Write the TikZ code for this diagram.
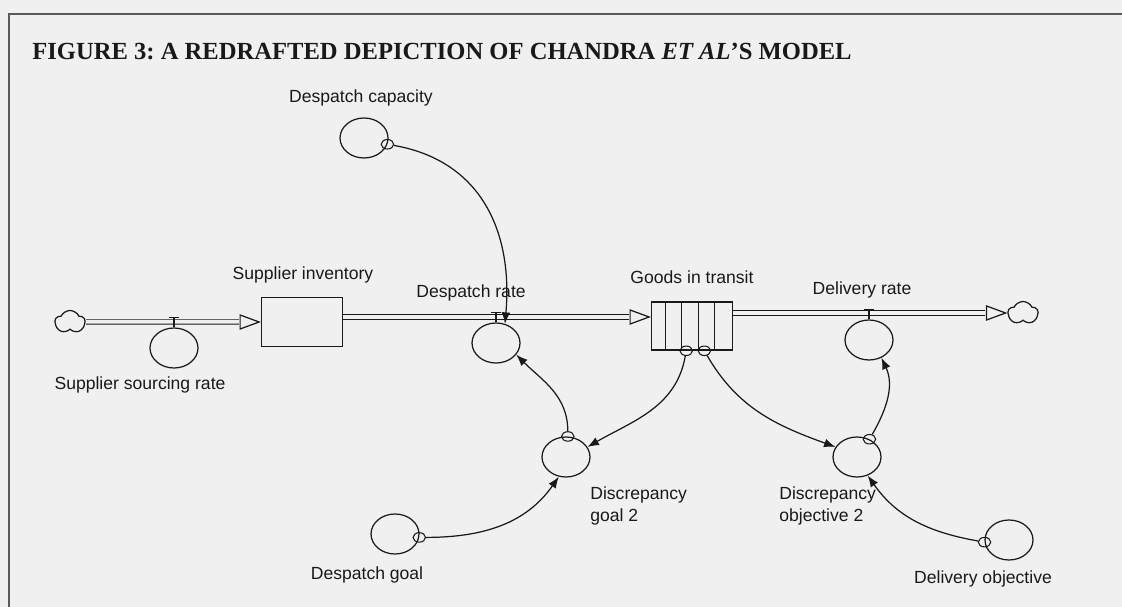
\documentclass[tikz,border=0pt]{standalone}
\usepackage{fontspec}
\setmainfont{Liberation Serif}
\setsansfont{Liberation Sans}
\usepackage{tikz}
\usetikzlibrary{calc,positioning,shapes.symbols,shapes.geometric,arrows.meta}
\definecolor{paper}{gray}{0.94}
\definecolor{ink}{gray}{0.1}
\definecolor{framegrey}{gray}{0.35}
\frenchspacing

\begin{document}
\begin{tikzpicture}[x=0.02cm,y=-0.02cm,>={Latex[length=6.5pt,width=5pt]}]

\tikzset{aux/.style={draw=ink,shape=ellipse,inner sep=0pt,minimum width=0.96cm,minimum height=0.8cm,line width=0.7pt},
tail/.style={draw=ink,shape=ellipse,inner sep=0pt,minimum width=0.25cm,minimum height=0.19cm,line width=0.6pt},
stock/.style={draw=ink,line width=0.9pt,minimum width=1.62cm,minimum height=0.98cm,inner sep=0pt},
sink/.style={draw=ink,shape=cloud,cloud puffs=5,cloud puff arc=130,aspect=1.3,minimum width=0.6cm,minimum height=0.46cm,inner sep=0pt,line width=0.7pt},
pipetip/.style={draw=ink,fill=paper,shape=isosceles triangle,isosceles triangle stretches,anchor=apex,inner sep=0pt,minimum width=0.28cm,minimum height=0.38cm,line width=0.7pt},
pipe/.style={draw=ink,double=paper,double distance=0.07cm,line width=0.55pt,shorten >=0.3pt},
link/.style={draw=ink,->,line width=0.7pt},
lbl/.style={font=\sffamily\fontsize{10}{13}\selectfont,text=ink,inner sep=0pt}}

\useasboundingbox (0,0) rectangle (1122,607);
\fill[paper] (0,0) rectangle (1122,607);

% Frame and title
\draw[framegrey,line width=1.1pt] (9,607) -- (9,14) -- (1122,14);
\node[anchor=west,inner sep=0pt,text=ink,font=\bfseries\fontsize{14}{16}\selectfont] (title) at (32,52) {FIGURE 3: A REDRAFTED DEPICTION OF CHANDRA \textit{ET AL}'S MODEL};

% Sources and sinks
\node[sink] (cloudL) at (70,322) {};
\node[sink] (cloudR) at (1023,313) {};

% Stocks
\node[stock] (inv) at (302,322) {};
\node[stock,minimum height=0.96cm] (transit) at (692,326) {};
\foreach \i in {1,2,3,4} \draw[ink,line width=0.7pt] ($(transit.north west)!\i/5-0.025!(transit.north east)$) -- ($(transit.south west)!\i/5-0.025!(transit.south east)$);

% Pipe heads
\node[pipetip] (tipA) at (inv.west) {};
\node[pipetip] (tipB) at ($(transit.west)+(0,-9)$) {};
\node[pipetip] (tipC) at (cloudR.west) {};

% Pipes
\draw[pipe] (cloudL.east) -- (tipA.west);
\draw[pipe] (inv.east |- tipB) -- (tipB.west);
\draw[pipe] (transit.east |- tipC) -- (tipC.west);

% Rates (valves)
\node[aux] (srcRate) at (174,348) {};
\node[aux] (despRate) at (496,343) {};
\node[aux] (delRate) at (869,340) {};
\foreach \v in {srcRate,despRate,delRate} \draw[ink,line width=0.7pt] (\v.north) -- ++(0,-10) ++(-5,0) -- ++(10,0); % valve T

% Auxiliaries
\node[aux] (cap) at (364,138) {};
\node[aux] (dg2) at (566,457) {};
\node[aux] (do2) at (857,457) {};
\node[aux] (dgoal) at (395,534) {};
\node[aux] (dobj) at (1009,540) {};

% Link tails
\node[tail] (capT) at (cap.-15) {};
\node[tail] (dg2T) at (dg2.85) {};
\node[tail] (do2T) at (do2.55) {};
\node[tail] (dgoalT) at (dgoal.-8) {};
\node[tail] (dobjT) at (dobj.185) {};
\node[tail] (trA) at ($(transit.south west)!0.43!(transit.south east)$) {};
\node[tail] (trB) at ($(transit.south west)!0.65!(transit.south east)$) {};

% Links
\draw[link] (capT) to[out=-10,in=85,looseness=1.1] (despRate.65);
\draw[link] (dg2T) to[out=90,in=-45] (despRate.-30);
\draw[link] (trA) to[out=-100,in=30] (dg2.25);
\draw[link] (trB) to[out=-60,in=160] (do2.155);
\draw[link] (do2T) to[out=60,in=-65] (delRate.-55);
\draw[link] (dgoalT) to[out=0,in=-125] (dg2.-110);
\draw[link] (dobjT) to[out=170,in=-55] (do2.-60);

% Labels
\node[lbl] (capLbl) at (361,98) {Despatch capacity};
\node[lbl] (invLbl) at (303,275) {Supplier inventory};
\node[lbl] (despLbl) at (471,293) {Despatch rate};
\node[lbl] (transitLbl) at (692,277) {Goods in transit};
\node[lbl] (delLbl) at (862,290) {Delivery rate};
\node[lbl] (srcLbl) at (140,385) {Supplier sourcing rate};
\node[lbl,anchor=west,align=left] (dg2Lbl) at (590,506) {Discrepancy\\goal 2};
\node[lbl,anchor=west,align=left] (do2Lbl) at (779,506) {Discrepancy\\objective 2};
\node[lbl] (dgoalLbl) at (367,575) {Despatch goal};
\node[lbl] (dobjLbl) at (983,579) {Delivery objective};

\end{tikzpicture}
\end{document}
